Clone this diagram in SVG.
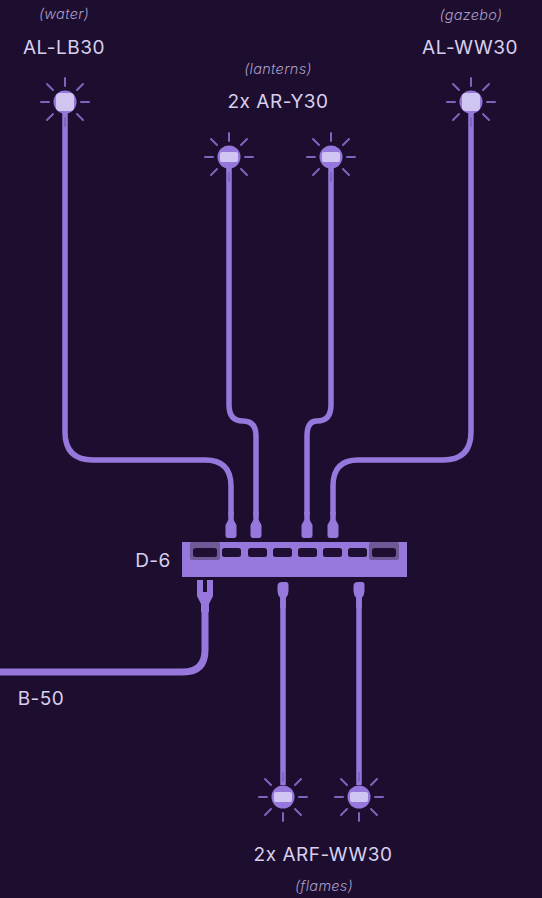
<svg xmlns="http://www.w3.org/2000/svg" width="542" height="898" viewBox="0 0 542 898">
<style>
.w{fill:none;stroke:#9678dc;stroke-width:5.500}
.t{font-family:"Inter","Noto Sans",sans-serif;font-size:19px;letter-spacing:.5px;fill:#d8cfee;text-anchor:middle;font-weight:400}
.n{font-family:"Inter","Noto Sans",sans-serif;font-size:14.500px;font-style:italic;font-weight:300;letter-spacing:.3px;fill:#a99cc6;text-anchor:middle}
.r{stroke:#7d64bc;stroke-width:2;stroke-linecap:round;fill:none}
.p{fill:#9678dc}
.s{fill:#1f1033}
</style>
<defs>
<g id="rays"><path class="r" d="M0-16V-24M0 16V24M-16 0H-24M16 0H24M-12-12L-18-18M12-12L18-18M-12 12L-18 18M12 12L18 18"/><circle r="11.500" fill="#9678dc"/></g>
<g id="plug"><path class="p" d="M-2.750-16H2.750V-8L5.500-3V7Q5.500 10 3 10H-3Q-5.500 10-5.500 7V-3L-2.750-8Z"/></g>
<g id="plugb"><path class="p" d="M-2.750-16H2.750V-6Q5.500-3 5.500 1V6Q5.500 10 1 10H-3Q-5.500 10-5.500 7V1Q-5.500-3-2.750-6Z"/></g>
</defs>
<rect width="542" height="898" fill="#1d0e2f"/>
<g id="connectors">
<path class="w" d="M65 110V432Q65 460 93 460H205Q231 460 231 486V515"/>
<path class="w" d="M229 165V405Q229 421 243 421Q256 421 256 436V515"/>
<path class="w" d="M331 165V405Q331 421 317 421Q307 421 307 436V515"/>
<path class="w" d="M471 110V432Q471 460 443 460H358Q333 460 333 486V515"/>
<path class="w" d="M283 597V785"/>
<path class="w" d="M359 597V785"/>
<path class="w" style="stroke-width:7" d="M205 600V650Q205 672 183 672H0"/>
</g>
<g id="plugs">
<use href="#plug" x="231" y="528"/><use href="#plug" x="256" y="528"/><use href="#plug" x="307" y="528"/><use href="#plug" x="333" y="528"/>
<use href="#plugb" transform="translate(283 592) rotate(180)"/><use href="#plugb" transform="translate(359 592) rotate(180)"/>
<path class="p" d="M197 580H203V592H207V580H213V596L209 604V612H201V604L197 596Z"/>
</g>
<g id="D-6">
<rect x="182" y="542" width="225" height="35" fill="#9678dc"/>
<rect x="190" y="542" width="30" height="18" rx="2" fill="#6d5a96"/>
<rect x="369" y="542" width="30" height="18" rx="2" fill="#6d5a96"/>
<rect class="s" x="193" y="548" width="24" height="9" rx="2.500"/>
<rect class="s" x="222" y="548" width="19" height="9" rx="2.500"/>
<rect class="s" x="248" y="548" width="19" height="9" rx="2.500"/>
<rect class="s" x="273" y="548" width="19" height="9" rx="2.500"/>
<rect class="s" x="298" y="548" width="19" height="9" rx="2.500"/>
<rect class="s" x="323" y="548" width="19" height="9" rx="2.500"/>
<rect class="s" x="348" y="548" width="19" height="9" rx="2.500"/>
<rect class="s" x="372" y="548" width="24" height="9" rx="2.500"/>
<text class="t" x="153" y="567">D-6</text>
</g>
<g id="AL-LB30"><use href="#rays" x="65" y="102"/><rect x="56" y="93" width="18" height="18" rx="4" fill="#d0c5f0"/>
<text class="n" x="64" y="19">(water)</text><text class="t" x="64" y="54">AL-LB30</text></g>
<g id="AL-WW30"><use href="#rays" x="471" y="102"/><rect x="462" y="93" width="18" height="18" rx="4" fill="#d0c5f0"/>
<text class="n" x="471" y="20">(gazebo)</text><text class="t" x="470" y="54">AL-WW30</text></g>
<g id="AR-Y30"><use href="#rays" x="229" y="157"/><use href="#rays" x="331" y="157"/>
<rect x="220" y="152" width="18" height="10" rx="2" fill="#d0c5f0"/><rect x="322" y="152" width="18" height="10" rx="2" fill="#d0c5f0"/>
<text class="n" x="278" y="74">(lanterns)</text><text class="t" x="278" y="108">2x AR-Y30</text></g>
<g id="ARF-WW30"><use href="#rays" x="283" y="797"/><use href="#rays" x="359" y="797"/>
<rect x="274" y="792" width="18" height="10" rx="2" fill="#d0c5f0"/><rect x="350" y="792" width="18" height="10" rx="2" fill="#d0c5f0"/>
<text class="t" x="323" y="861">2x ARF-WW30</text><text class="n" x="324" y="891">(flames)</text></g>
<g id="B-50"><text class="t" x="41" y="705">B-50</text></g>
</svg>
